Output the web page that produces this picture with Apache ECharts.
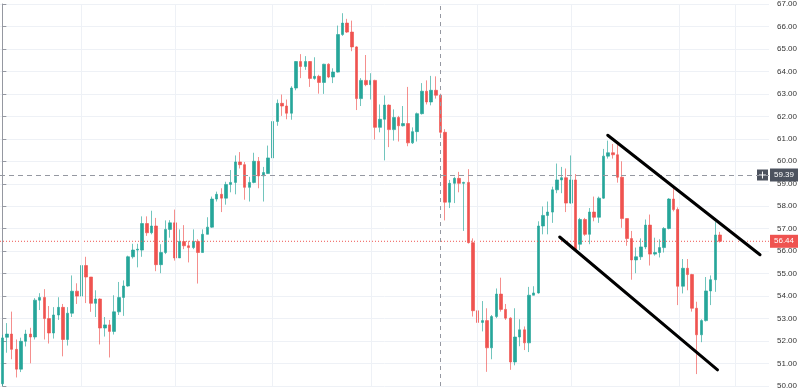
<!DOCTYPE html>
<html><head><meta charset="utf-8">
<script src="https://cdn.jsdelivr.net/npm/echarts@6/dist/echarts.min.js"></script>
<style>html,body{margin:0;padding:0;background:#fff}#c{width:800px;height:390px}</style>
</head><body><div id="c"></div>
<script>
const opens = [50.10,52.17,52.31,51.63,50.75,51.99,52.31,52.18,53.82,53.94,53.00,52.36,53.16,53.50,52.07,53.24,54.22,54.00,55.36,54.85,53.68,53.87,52.58,52.72,52.43,53.30,53.94,54.45,55.75,56.05,56.05,57.23,56.82,57.12,55.40,55.94,56.97,57.26,55.70,56.43,56.24,56.16,56.43,55.94,56.75,57.07,58.32,58.53,58.36,58.97,59.06,59.97,59.85,58.84,59.06,60.00,59.35,59.46,60.15,61.77,62.58,62.46,62.14,63.26,64.44,64.22,64.44,63.69,63.78,63.51,64.32,63.75,63.97,65.64,66.15,65.75,65.09,62.79,63.60,63.41,63.60,61.51,61.87,62.50,61.41,61.95,61.58,61.68,60.82,61.32,62.12,63.12,62.64,63.16,62.94,61.29,58.18,59.02,59.24,59.02,59.06,56.38,53.35,52.83,52.91,51.70,53.09,54.09,53.41,53.02,51.07,52.18,52.50,51.92,54.04,54.14,57.12,57.59,57.74,58.73,59.17,59.27,58.14,59.17,56.31,57.41,56.75,57.74,57.51,58.36,60.23,60.38,60.29,59.29,57.45,56.56,55.61,55.75,56.19,57.16,55.87,55.94,56.16,57.01,58.32,57.85,54.44,55.24,54.96,53.46,52.28,52.91,54.23,54.73,56.72];
const closes = [52.14,52.31,51.63,50.75,51.99,52.31,52.18,53.82,53.94,53.00,52.36,53.16,53.50,52.07,53.24,54.22,54.00,55.36,54.85,53.68,53.87,52.58,52.72,52.43,53.30,53.94,54.45,55.75,56.05,56.09,57.23,56.82,57.12,55.40,55.94,56.97,57.26,55.70,56.43,56.24,56.16,56.43,55.94,56.75,57.07,58.32,58.53,58.36,58.97,59.06,59.97,59.85,58.84,59.06,60.00,59.35,59.50,60.15,61.77,62.58,62.46,62.14,63.26,64.44,64.22,64.44,63.69,63.78,63.51,64.32,63.75,63.97,65.64,66.15,65.75,65.09,62.79,63.60,63.41,63.60,61.51,61.87,62.50,61.41,61.95,61.58,61.68,60.82,61.32,62.12,63.12,62.64,63.16,62.94,61.29,58.18,59.02,59.24,59.02,59.06,56.38,53.35,52.83,52.91,51.70,53.09,54.09,53.41,53.02,51.07,52.18,52.50,51.92,54.04,54.14,57.12,57.59,57.74,58.73,59.17,59.27,58.14,59.17,56.09,57.41,56.75,57.74,57.51,58.36,60.23,60.38,60.29,59.29,57.45,56.56,55.61,55.75,56.19,57.16,55.87,55.94,56.16,57.01,58.32,57.85,54.44,55.24,54.96,53.46,52.28,52.91,54.23,54.73,56.72,56.44];
const lows = [50.00,51.48,51.19,50.38,50.62,51.76,51.01,52.07,53.38,52.07,51.89,52.11,52.94,51.32,51.80,53.07,53.65,53.38,53.69,53.30,53.07,51.85,52.20,51.27,52.29,53.16,53.12,54.42,55.67,55.28,55.75,56.68,56.75,55.11,55.02,55.87,56.60,55.58,55.70,56.09,55.50,56.09,54.56,55.94,56.75,57.04,58.21,57.74,58.07,58.62,58.53,59.68,58.29,58.21,59.02,58.80,58.21,59.45,60.12,61.58,62.02,61.87,61.85,63.16,63.70,64.07,63.31,63.63,63.01,63.00,63.70,63.48,63.95,65.58,65.71,64.90,62.28,62.46,63.34,62.75,60.97,61.29,60.04,60.63,60.92,60.88,61.55,60.67,60.77,60.88,62.08,62.53,62.49,62.79,61.07,57.37,57.92,58.14,58.62,56.90,56.34,53.09,52.14,52.43,50.63,51.19,53.02,53.31,52.94,50.72,50.92,51.77,51.60,51.51,54.04,54.11,56.75,56.75,57.26,58.58,58.58,57.74,58.11,56.05,56.05,56.68,56.31,57.33,57.26,58.33,60.12,60.12,59.05,57.04,56.24,54.73,55.02,55.61,56.09,55.36,55.80,55.72,55.94,56.97,57.77,53.60,54.12,54.26,53.31,50.53,51.95,52.87,53.60,54.19,56.38];
const highs = [52.28,52.80,53.31,52.07,52.15,52.50,52.59,53.91,54.13,54.31,53.56,53.51,53.95,53.65,53.51,54.92,54.57,55.62,55.75,54.85,54.26,53.90,53.07,52.94,54.04,54.63,54.70,55.80,56.33,56.33,57.55,57.55,57.80,57.48,56.31,57.37,57.38,57.85,56.97,57.16,56.46,56.97,56.53,56.97,57.51,58.43,58.65,58.80,59.09,59.61,60.26,60.41,59.97,59.31,60.38,60.19,59.75,60.70,61.80,62.75,62.97,62.75,63.34,64.46,64.77,64.68,64.46,64.63,63.85,64.34,64.36,64.14,66.04,66.59,66.34,66.26,65.12,63.70,64.73,63.92,63.63,62.53,62.93,62.53,62.31,62.02,62.46,63.31,61.51,62.17,63.48,63.60,63.80,63.78,63.01,61.43,59.17,59.31,59.53,59.09,59.65,56.57,54.63,53.78,53.46,53.16,54.34,54.82,53.65,53.06,53.46,52.97,52.65,54.41,54.44,57.33,57.99,58.21,58.87,59.90,59.75,59.68,60.26,59.43,57.48,57.48,57.92,58.43,58.43,60.55,60.92,60.77,60.73,60.00,57.45,56.90,56.16,56.57,57.41,57.63,56.60,56.53,57.07,58.36,58.80,57.95,55.65,55.65,54.99,53.75,52.97,54.85,54.92,57.30,56.86];
const slotCount = 165;
const yMin = 50, yMax = 67, yStep = 1;
const lastPrice = 56.44;
const crossPrice = 59.39;
const crossIndex = 94;
const timeGridIdx = [16.93, 37.07, 57.99, 79.22, 101.99, 122.15, 145.28, 157.17];
const upperLine = [[129.9, 61.16], [162.58, 55.84]];
const lowerLine = [[119.59, 56.63], [153.46, 50.72]];

const cats = Array.from({length: slotCount}, (_, i) => String(i));
const candleData = opens.map((o, i) => [o, closes[i], lows[i], highs[i]]);
const fontFam = '"Liberation Sans", Arial, sans-serif';
const RED = '#ef5350';

const chart = echarts.init(document.getElementById('c'), null, {renderer: 'canvas'});
chart.setOption({
  animation: false,
  backgroundColor: '#ffffff',
  grid: {left: -1.6, right: 29, top: 0, bottom: 3, containLabel: false},
  xAxis: [
    {type: 'category', data: cats, boundaryGap: true, axisLine: {show: false}, axisTick: {show: false}, axisLabel: {show: false}, splitLine: {show: false}},
    {type: 'value', min: -0.5, max: slotCount - 0.5, show: false}
  ],
  yAxis: {
    type: 'value', position: 'right', min: yMin, max: yMax, interval: yStep,
    axisLine: {show: true, lineStyle: {color: '#9598a1', width: 1}},
    axisTick: {show: true, length: 4, lineStyle: {color: '#9598a1'}},
    axisLabel: {formatter: v => v.toFixed(2), color: '#333', fontSize: 8, margin: 8, fontFamily: fontFam},
    splitLine: {show: true, lineStyle: {color: '#eef1f6', width: 1}}
  },
  series: [
    {
      type: 'line', xAxisIndex: 1, data: [], silent: true, z: 1,
      markLine: {
        silent: true, symbol: ['none', 'none'], animation: false,
        lineStyle: {color: '#eef1f6', type: 'solid', width: 1},
        label: {show: false},
        data: timeGridIdx.map(v => ({xAxis: v}))
      }
    },
    {
      type: 'candlestick', xAxisIndex: 0, data: candleData, barWidth: 3, z: 3,
      itemStyle: {color: '#26a69a', color0: RED, borderColor: 'rgba(38,166,154,0.65)', borderColor0: 'rgba(239,83,80,0.65)', borderWidth: 1}
    },
    {
      type: 'line', xAxisIndex: 1, data: [], silent: true, z: 4,
      markLine: {
        silent: true, symbol: ['none', 'none'], animation: false,
        lineStyle: {color: '#9598a1', type: [4, 4], width: 1},
        data: [
          {xAxis: crossIndex, label: {show: false}},
          {yAxis: crossPrice, lineStyle: {color: '#9598a1', type: [5, 4], width: 1},
            label: {show: true, position: 'end', distance: 1, formatter: crossPrice.toFixed(2), color: '#fff', backgroundColor: '#4c525e', padding: [3, 4, 2, 4], fontSize: 8, fontFamily: fontFam}}
        ]
      }
    },
    {
      type: 'line', xAxisIndex: 1, silent: true, z: 4, symbol: 'none', color: RED,
      data: [[-0.5, lastPrice], [slotCount - 0.5, lastPrice]],
      lineStyle: {color: RED, type: [1, 2], width: 1},
      endLabel: {show: true, distance: 1, formatter: lastPrice.toFixed(2), color: '#fff', backgroundColor: RED, padding: [3, 4, 2, 4], fontSize: 8, fontFamily: fontFam}
    },
    {type: 'line', xAxisIndex: 1, data: upperLine, symbol: 'none', silent: true, z: 5, lineStyle: {color: '#000', width: 3, cap: 'round'}},
    {type: 'line', xAxisIndex: 1, data: lowerLine, symbol: 'none', silent: true, z: 5, lineStyle: {color: '#000', width: 3, cap: 'round'}}
  ]
});

const yC = chart.convertToPixel({yAxisIndex: 0}, crossPrice);
const xR = chart.convertToPixel({xAxisIndex: 1}, slotCount - 0.5);
chart.setOption({
  graphic: [{
    type: 'group', z: 100,
    children: [
      {type: 'rect', shape: {x: xR - 12, y: yC - 5.5, width: 11, height: 11}, style: {fill: '#4c525e'}},
      {type: 'line', shape: {x1: xR - 10, y1: yC, x2: xR - 3, y2: yC}, style: {stroke: '#fff', lineWidth: 1}},
      {type: 'line', shape: {x1: xR - 6.5, y1: yC - 3.5, x2: xR - 6.5, y2: yC + 3.5}, style: {stroke: '#fff', lineWidth: 1}}
    ]
  }]
});
</script>
</body></html>
